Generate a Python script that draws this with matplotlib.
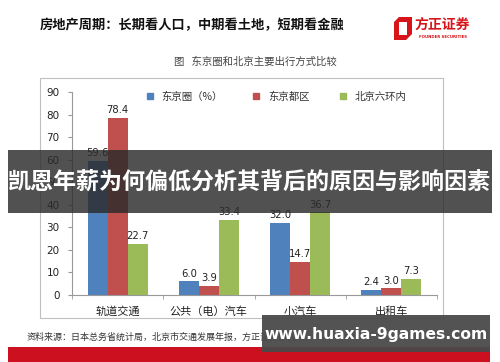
import matplotlib
matplotlib.use("Agg")
import matplotlib.pyplot as plt
import numpy as np
from matplotlib.patches import Rectangle, Polygon
from matplotlib.lines import Line2D

plt.rcParams['font.family'] = ['Noto Sans CJK SC', 'DejaVu Sans']

categories = ["轨道交通", "公共（电）汽车", "小汽车", "出租车"]
series_names = ["东京圈（%）", "东京都区", "北京六环内"]
tokyo_metro = [59.6, 6.0, 32.0, 2.4]
tokyo_wards = [78.4, 3.9, 14.7, 3.0]
beijing_6ring = [22.7, 33.4, 36.7, 7.3]
yticks = [0, 10, 20, 30, 40, 50, 60, 70, 80, 90]
colors = ["#4F81BD", "#C0504D", "#9BBB59"]

W, H = 500, 362
fig = plt.figure(figsize=(5, 3.62), dpi=100)
fig.patch.set_facecolor("white")

def fx(x): return x / W
def fy(y): return 1 - y / H

# chart frame
fig.patches.append(Rectangle((fx(40), fy(318)), fx(443) - fx(40), fy(78) - fy(318),
                             transform=fig.transFigure, fill=False, edgecolor="#BFBFBF", lw=0.8))

ax = fig.add_axes([fx(72), fy(295), fx(437) - fx(72), fy(92) - fy(295)])
x = np.arange(len(categories))
bw = 0.22
for i, (vals, c) in enumerate(zip([tokyo_metro, tokyo_wards, beijing_6ring], colors)):
    pos = x + (i - 1) * bw
    ax.bar(pos, vals, bw, color=c, label=series_names[i])
    for xi, v in zip(pos, vals):
        ax.text(xi, v + 1.2, f"{v:.1f}", ha="center", va="bottom", fontsize=7.2,
                color="#222222", family="DejaVu Sans")

ax.set_xlim(-0.5, 3.5)
ax.set_ylim(0, 90)
ax.set_yticks(yticks)
ax.set_yticklabels([str(t) for t in yticks], fontsize=7.5, family="DejaVu Sans", color="#222222")
ax.set_xticks(x)
ax.set_xticklabels(categories, fontsize=8, color="#222222")
ax.set_xticks(np.arange(-0.5, 4, 1), minor=True)
ax.tick_params(axis="x", which="major", length=0, pad=8)
ax.tick_params(axis="x", which="minor", length=3, color="#999999")
ax.tick_params(axis="y", length=3, color="#999999", pad=6)
for s in ["top", "right"]:
    ax.spines[s].set_visible(False)
for s in ["left", "bottom"]:
    ax.spines[s].set_color("#999999")
    ax.spines[s].set_linewidth(0.8)
ax.set_facecolor("none")

handles = [Line2D([], [], marker="s", ls="", color=c, markersize=4.5) for c in colors]
fig.legend(handles, series_names, loc="center", bbox_to_anchor=(fx(273), fy(97)), ncol=3,
           frameon=False, fontsize=7.5, handletextpad=0.1, columnspacing=2.2, labelcolor="#333333")

# titles
fig.text(fx(40), fy(25), "房地产周期：长期看人口，中期看土地，短期看金融", fontsize=9.5,
         fontweight="bold", color="#111111", va="center", ha="left")
fig.text(fx(255), fy(62), "图   东京圈和北京主要出行方式比较", fontsize=7.5,
         color="#444444", va="center", ha="center")

# logo
fig.patches.append(Polygon([(fx(394), fy(40)), (fx(394), fy(22)), (fx(399), fy(17)),
                            (fx(412), fy(17)), (fx(412), fy(34)), (fx(406), fy(40))],
                           closed=True, transform=fig.transFigure, facecolor="#D7141A", edgecolor="none"))
fig.patches.append(Rectangle((fx(399), fy(35)), fx(8), fy(22) - fy(35),
                             transform=fig.transFigure, facecolor="white", edgecolor="none"))
fig.text(fx(442), fy(25), "方正证券", fontsize=10, fontweight="bold", color="#D7141A",
         va="center", ha="center")
fig.text(fx(443), fy(36.5), "FOUNDER SECURITIES", fontsize=2.8, fontweight="bold",
         color="#D7141A", va="center", ha="center", family="DejaVu Sans")

# source
fig.text(fx(27), fy(337), "资料来源：日本总务省统计局，北京市交通发展年报，方正证券研究所",
         fontsize=6.5, color="#333333", va="center", ha="left")

# bottom red band
fig.patches.append(Rectangle((fx(8), 0), fx(490) - fx(8), fy(347),
                             transform=fig.transFigure, facecolor="#CC1020", edgecolor="none"))

# overlay banner
fig.patches.append(Rectangle((fx(8), fy(213)), fx(492) - fx(8), fy(150) - fy(213),
                             transform=fig.transFigure, facecolor="#2b2b2b", alpha=0.82,
                             edgecolor="none", zorder=5))
fig.text(fx(249), fy(182), "凯恩年薪为何偏低分析其背后的原因与影响因素", fontsize=16.6,
         fontweight="bold", color="white", va="center", ha="center", zorder=6)

# watermark box
fig.patches.append(Rectangle((fx(262), fy(352)), fx(490) - fx(262), fy(315) - fy(352),
                             transform=fig.transFigure, facecolor="#4a4a4a", alpha=0.95,
                             edgecolor="none", zorder=5))
fig.text(fx(376), fy(334), "www.huaxia-9games.com", fontsize=11.2, fontweight="bold",
         color="white", va="center", ha="center", family="DejaVu Sans", zorder=6)

fig.savefig("out.png", dpi=100)
